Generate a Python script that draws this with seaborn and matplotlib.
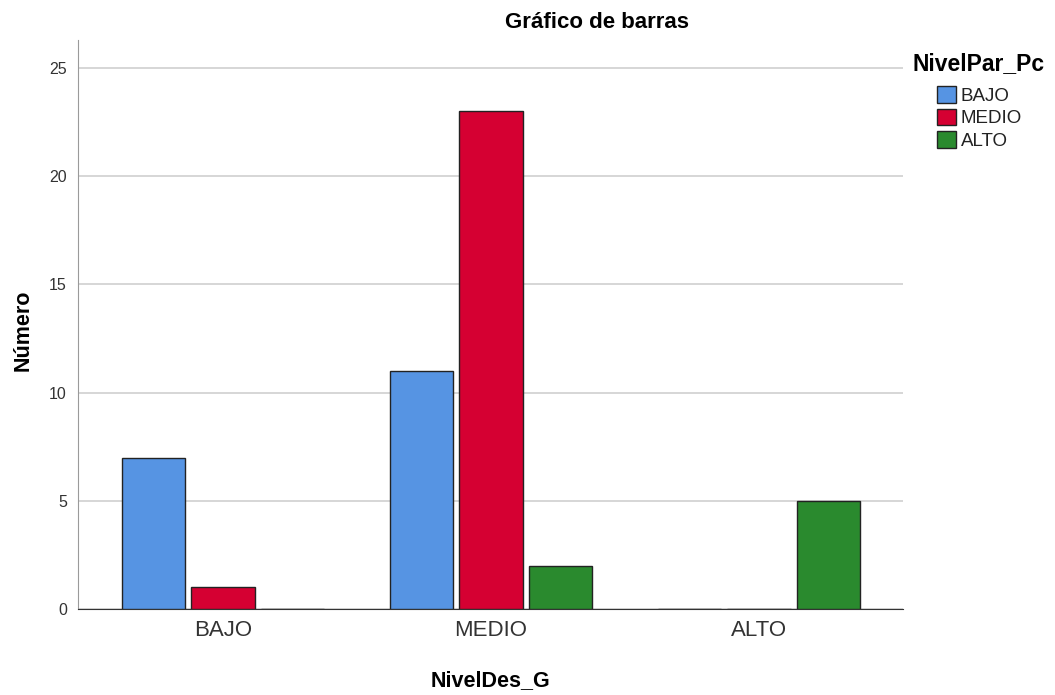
import pandas as pd
import matplotlib
matplotlib.use("Agg")
import matplotlib.pyplot as plt
import seaborn as sns

categories = ["BAJO", "MEDIO", "ALTO"]
hue_levels = ["BAJO", "MEDIO", "ALTO"]
counts_bajo = [7, 11, 0]
counts_medio = [1, 23, 0]
counts_alto = [0, 2, 5]
colors = ["#5694E3", "#D50032", "#2A8A2E"]

sns.set_style("white")
plt.rcParams["font.family"] = ["Liberation Sans", "DejaVu Sans"]

rows = []
for lvl, vals in zip(hue_levels, [counts_bajo, counts_medio, counts_alto]):
    for cat, v in zip(categories, vals):
        rows.append({"NivelDes_G": cat, "NivelPar_Pc": lvl, "Número": v})
df = pd.DataFrame(rows)

W, H = 1055, 695
fig = plt.figure(figsize=(W / 100, H / 100), dpi=100)
ax = fig.add_axes([78 / W, 86 / H, 825 / W, 569 / H])

sns.barplot(data=df, x="NivelDes_G", y="Número", hue="NivelPar_Pc",
            order=categories, hue_order=hue_levels, palette=colors,
            width=0.78, gap=0.09, edgecolor="#222222", linewidth=1.0,
            saturation=1, errorbar=None, ax=ax, zorder=3)

ax.set_ylim(0, 26.3)
ax.set_xlim(-0.541, 2.537)
ax.set_yticks([0, 5, 10, 15, 20, 25])
ax.yaxis.grid(True, color="#cfcfcf", linewidth=1.2, zorder=0)
ax.set_axisbelow(True)
ax.tick_params(axis="y", labelsize=11.5, colors="#333333", length=0, pad=8)
ax.tick_params(axis="x", labelsize=16, colors="#333333", length=0, pad=8)

for s in ["top", "right"]:
    ax.spines[s].set_visible(False)
ax.spines["left"].set_color("#9a9a9a")
ax.spines["bottom"].set_color("#333333")

ax.set_xlabel("")
ax.set_ylabel("")
fig.text(597 / W, 1 - 23 / H, "Gráfico de barras", fontsize=16, fontweight="bold",
         ha="center", va="center", color="black")
fig.text(23 / W, 1 - 330 / H, "Número", fontsize=15.5, fontweight="bold",
         ha="center", va="center", rotation=90, color="black")
fig.text(490 / W, 1 - 681 / H, "NivelDes_G", fontsize=15.5, fontweight="bold",
         ha="center", va="center", color="black")
fig.text(913 / W, 1 - 64 / H, "NivelPar_Pc", fontsize=16.5, fontweight="bold",
         ha="left", va="center", color="black")

leg = ax.legend(loc="upper left", bbox_to_anchor=(937 / W, 1 - 86 / H),
                bbox_transform=fig.transFigure, frameon=False, fontsize=13.5,
                handlelength=1.0, handleheight=1.0, handletextpad=0.27,
                labelspacing=0.2, borderpad=0, borderaxespad=0)
for h in leg.legend_handles:
    h.set_edgecolor("#222222")
for t in leg.get_texts():
    t.set_color("#222222")

fig.savefig("out.png", dpi=100)
